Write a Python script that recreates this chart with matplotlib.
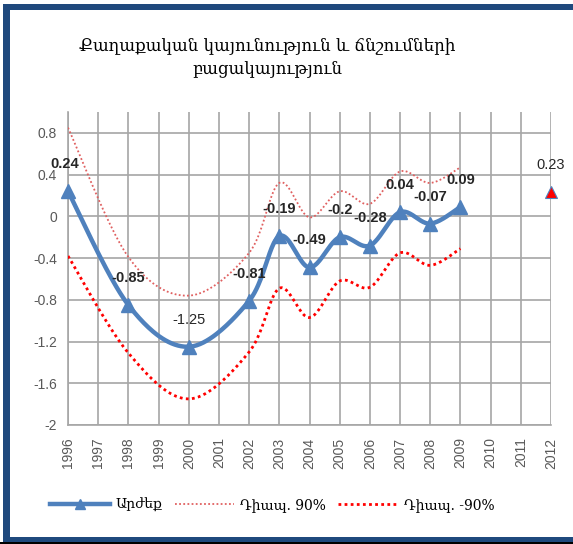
import numpy as np
import matplotlib
matplotlib.use('Agg')
import matplotlib.pyplot as plt
from matplotlib.patches import Rectangle
from matplotlib.lines import Line2D

# ---- data ----
years = [str(y) for y in range(1996, 2013)]
value_years = [1996, 1998, 2000, 2002, 2003, 2004, 2005, 2006, 2007, 2008, 2009]
values = [0.24, -0.85, -1.25, -0.81, -0.19, -0.49, -0.2, -0.28, 0.04, -0.07, 0.09]
upper_90 = [0.85, -0.39, -0.76, -0.35, 0.32, -0.01, 0.24, 0.12, 0.43, 0.32, 0.47]
lower_90 = [-0.38, -1.31, -1.75, -1.30, -0.69, -0.97, -0.62, -0.68, -0.35, -0.47, -0.31]
forecast_year = 2012
forecast_value = 0.23
title = "Քաղաքական կայունություն և ճնշումների\nբացակայություն"
legend_labels = ["Արժեք", "Դիապ. 90%", "Դիապ. -90%"]
yticks = [-2, -1.6, -1.2, -0.8, -0.4, 0, 0.4, 0.8]


def smooth(xs, ys, n=40):
    """Excel-like smoothed line (cubic Bezier with Catmull-Rom tangents)."""
    P = np.column_stack([xs, ys]).astype(float)
    out = [P[0]]
    m = len(P)
    for i in range(m - 1):
        p0 = P[i - 1] if i > 0 else P[i]
        p1 = P[i]
        p2 = P[i + 1]
        p3 = P[i + 2] if i + 2 < m else P[i + 1]
        c1 = p1 + (p2 - p0) / 6.0
        c2 = p2 - (p3 - p1) / 6.0
        t = np.linspace(0, 1, n)[1:, None]
        seg = ((1 - t) ** 3) * p1 + 3 * ((1 - t) ** 2) * t * c1 + 3 * (1 - t) * t ** 2 * c2 + t ** 3 * p2
        out.extend(seg)
    out = np.array(out)
    return out[:, 0], out[:, 1]


plt.rcParams['font.family'] = ['Liberation Sans', 'DejaVu Sans']
fig = plt.figure(figsize=(5.73, 5.44), dpi=100)
ax = fig.add_axes([68 / 573, 1 - 425 / 544, (551 - 68) / 573, (425 - 112) / 544])

xpos = [years.index(str(y)) for y in value_years]

ux, uy = smooth(xpos, upper_90)
lx, ly = smooth(xpos, lower_90)
vx, vy = smooth(xpos, values)

ax.plot(ux, uy, color='#E06060', lw=1.3, linestyle=(0, (1, 1.3)), zorder=3)
ax.plot(lx, ly, color='#FF0000', lw=2.0, linestyle=(0, (1, 1.2)), zorder=3)
ax.plot(vx, vy, color='#4F81BD', lw=3.2, zorder=4, solid_capstyle='round')
ax.plot(xpos, values, linestyle='none', marker='^', markersize=10,
        color='#4F81BD', zorder=5, clip_on=False)
fx = years.index(str(forecast_year))
ax.plot([fx], [forecast_value], linestyle='none', marker='^', markersize=8,
        markerfacecolor='#FF0000', markeredgecolor='#4F81BD', markeredgewidth=0.8,
        zorder=5, clip_on=False)

normal_weight = {-1.25}
for x, v in zip(xpos, values):
    dx = -2 if x == 0 else 0
    ax.annotate(f"{v:g}", (x, v), xytext=(dx, 19.5), textcoords='offset points',
                ha='center', va='center', fontsize=10.5,
                fontweight='normal' if v in normal_weight else 'bold',
                color='#262626', zorder=6, annotation_clip=False)
ax.annotate(f"{forecast_value:g}", (fx, forecast_value), xytext=(0, 19.5),
            textcoords='offset points', ha='center', va='center', fontsize=10.5,
            color='#262626', zorder=6, annotation_clip=False)

ax.set_xlim(0, len(years) - 1)
ax.set_ylim(-2, 1.0)
ax.set_xticks(range(len(years)))
ax.set_xticklabels(years, rotation=90, fontsize=10, color='#595959')
ax.set_yticks(yticks)
ax.set_yticklabels([f"{t:g}" for t in yticks], fontsize=10, color='#595959')
ax.tick_params(axis='x', length=0, pad=9)
ax.tick_params(axis='y', length=0, pad=8)
ax.grid(True, color='#A6A6A6', lw=1.2)
ax.set_axisbelow(True)
for s in ['top', 'right']:
    ax.spines[s].set_visible(False)
for s in ['left', 'bottom']:
    ax.spines[s].set_color('#A6A6A6')
    ax.spines[s].set_linewidth(1.2)

fig.text(267 / 573, 1 - 57 / 544, title, ha='center', va='center', fontsize=12,
         family='DejaVu Serif', color='#000000', linespacing=1.5)

handles = [
    Line2D([0, 0.5, 1], [0, 0, 0], color='#4F81BD', lw=3.2, marker='^', markersize=7,
           markevery=[1]),
    Line2D([], [], color='#E06060', lw=1.3, linestyle=(0, (1, 1.3))),
    Line2D([], [], color='#FF0000', lw=2.0, linestyle=(0, (1, 1.2))),
]
fig.legend(handles, legend_labels, loc='center', bbox_to_anchor=(272 / 573, 1 - 505 / 544),
           ncol=3, frameon=False, handlelength=4.3, handletextpad=0.4, columnspacing=0.9,
           prop={'family': 'DejaVu Serif', 'size': 10})

# outer dark-blue frame
blue = '#1F497D'
fig.patches.append(Rectangle((3 / 573, 0), 7 / 573, 1 - 4 / 544, transform=fig.transFigure,
                             facecolor=blue, edgecolor='none', zorder=10))
fig.patches.append(Rectangle((3 / 573, 1 - 10 / 544), 1, 6 / 544, transform=fig.transFigure,
                             facecolor=blue, edgecolor='none', zorder=10))
fig.patches.append(Rectangle((3 / 573, 0), 1, 7 / 544, transform=fig.transFigure,
                             facecolor=blue, edgecolor='none', zorder=10))
fig.patches.append(Rectangle((0, 0), 1, 2 / 544, transform=fig.transFigure,
                             facecolor='black', edgecolor='none', zorder=11))

fig.savefig('out.png', dpi=100)
